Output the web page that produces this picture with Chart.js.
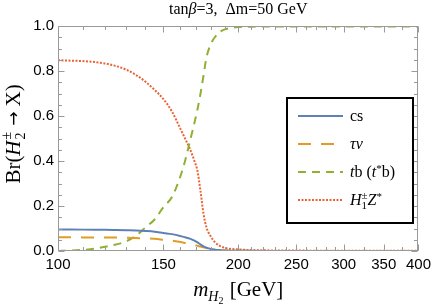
<!DOCTYPE html>
<html><head><meta charset="utf-8">
<script src="https://cdn.jsdelivr.net/npm/chart.js@4/dist/chart.umd.min.js"></script>
<style>html,body{margin:0;padding:0;background:#fff}#wrap{width:436px;height:308px;position:relative}</style>
</head><body><div id="wrap"><canvas id="c" width="436" height="308"></canvas></div>
<script>
// ---- data ----
const masses = [100,105,110,115,120,125,130,135,140,145,150,155,160,163,166,169,171,173,175,177,180,183,186,190,195,200,210,220,250,300,350,400];
const brCS   = [0.096,0.0955,0.095,0.0945,0.094,0.093,0.092,0.091,0.089,0.086,0.080,0.075,0.067,0.061,0.055,0.046,0.038,0.029,0.021,0.015,0.009,0.006,0.004,0.002,0.0015,0.001,0.0007,0.0005,0.0003,0.0002,0.0001,0.0001];
const brTauNu= [0.061,0.061,0.0605,0.0603,0.060,0.0595,0.059,0.0575,0.056,0.054,0.050,0.046,0.040,0.036,0.032,0.027,0.023,0.020,0.016,0.013,0.009,0.006,0.004,0.002,0.0012,0.0008,0.0005,0.0003,0.0002,0.0001,0.0001,0.0001];
const brTB   = [0.0,0.002,0.005,0.010,0.019,0.029,0.043,0.068,0.105,0.140,0.195,0.240,0.330,0.400,0.485,0.570,0.630,0.700,0.780,0.860,0.920,0.952,0.972,0.985,0.992,0.995,0.997,0.998,0.998,0.998,0.998,0.998];
const brHZ   = [0.848,0.846,0.844,0.840,0.833,0.822,0.806,0.782,0.752,0.716,0.675,0.620,0.545,0.500,0.455,0.400,0.355,0.265,0.165,0.105,0.064,0.038,0.024,0.014,0.009,0.007,0.004,0.003,0.002,0.001,0.001,0.001];
const xTickLabels = [100,150,200,250,300,350,400];
const xMinorTicks = [110,120,130,140,160,170,180,190,210,220,230,240,260,270,280,290,325,375];
const yTickLabels = [0.0,0.2,0.4,0.6,0.8,1.0];
const yMinorTicks = [0.05,0.1,0.15,0.25,0.3,0.35,0.45,0.5,0.55,0.65,0.7,0.75,0.85,0.9,0.95];

const SERIF = '"Liberation Serif","Times New Roman",serif';
const SANS = '"Liberation Sans",Arial,sans-serif';
const COLORS = {cs:'#5E81B5', tau:'#E19C24', tb:'#8FB032', hz:'#EB6235'};

function pts(ys){ return masses.map((m,i)=>({x:m,y:ys[i]})); }

function fontOf(r){ return (r.style||'normal')+' '+r.size+'px '+(r.fam||SERIF); }
// runs: {t,size,style,dy,stack,kern}
function runsWidth(ctx, runs){
  let x=0, ps=0, pw=0;
  for(const r of runs){
    ctx.font=fontOf(r); const w=ctx.measureText(r.t).width;
    if(r.stack){ r.x=ps; pw=Math.max(pw,w); x=ps+pw; }
    else { r.x=x+(r.kern||0); ps=r.x; pw=w; x=r.x+w; }
  }
  return x;
}
function drawRuns(ctx, runs, x0, y0, align){
  const w=runsWidth(ctx, runs);
  const sx = align==='center' ? x0-w/2 : x0;
  ctx.textBaseline='alphabetic'; ctx.textAlign='left';
  for(const r of runs){ ctx.font=fontOf(r); ctx.fillText(r.t, sx+r.x, y0+(r.dy||0)); }
}

const deco = {
  id:'deco',
  afterDraw(chart){
    const {ctx, chartArea:a, scales:{x,y}} = chart;
    ctx.save();
    const L=Math.round(a.left)+0.5, R=Math.round(a.right)-0.5, T=Math.round(a.top)+0.5, B=Math.round(a.bottom)-0.5;
    ctx.strokeStyle='#9a9a9a'; ctx.lineWidth=1;
    ctx.beginPath(); ctx.rect(L,T,R-L,B-T); ctx.stroke();
    ctx.beginPath();
    const tk=(v,len)=>{ const px=Math.round(x.getPixelForValue(v))+0.5; ctx.moveTo(px,B); ctx.lineTo(px,B-len); ctx.moveTo(px,T); ctx.lineTo(px,T+len); };
    xTickLabels.forEach(v=>tk(v,6)); xMinorTicks.forEach(v=>tk(v,3.5));
    const tky=(v,len)=>{ const py=Math.round(y.getPixelForValue(v))+0.5; ctx.moveTo(L,py); ctx.lineTo(L+len,py); ctx.moveTo(R,py); ctx.lineTo(R-len,py); };
    yTickLabels.forEach(v=>tky(v,6)); yMinorTicks.forEach(v=>tky(v,3.5));
    ctx.stroke();

    ctx.fillStyle='#000';
    // title
    drawRuns(ctx,[{t:'tan',size:16},{t:'β',size:16,style:'italic'},{t:'=3,  Δm=50 GeV',size:16}], (a.left+a.right)/2, 14, 'center');
    // x title
    drawRuns(ctx,[{t:'m',size:21,style:'italic'},{t:'H',size:14,style:'italic',dy:5},{t:'2',size:10,dy:8},{t:' [GeV]',size:21,kern:1}], (a.left+a.right)/2, 296, 'center');
    // y title
    ctx.save(); ctx.translate(20,134); ctx.rotate(-Math.PI/2);
    drawRuns(ctx,[{t:'Br(',size:21},{t:'H',size:21,style:'italic'},{t:'2',size:14,dy:5,kern:1},{t:'±',size:14,dy:-9,stack:true},{t:'→',size:17,fam:'"DejaVu Sans",sans-serif',kern:6,dy:-1},{t:'X)',size:21,kern:5}],0,0,'center');
    ctx.restore();

    // legend
    const bx=a.left+229, by=a.top+72, bw=126, bh=125;
    ctx.fillStyle='#fff'; ctx.fillRect(bx,by,bw,bh);
    ctx.strokeStyle='#000'; ctx.lineWidth=2; ctx.strokeRect(bx,by,bw,bh);
    const labels=[
      [{t:'cs',size:16}],
      [{t:'τν',size:16,style:'italic'}],
      [{t:'t',size:16,style:'italic'},{t:'b (',size:16},{t:'t',size:16,style:'italic'},{t:'*',size:11,dy:-5},{t:'b)',size:16}],
      [{t:'H',size:16,style:'italic'},{t:'1',size:11,dy:4},{t:'±',size:11,dy:-6,stack:true},{t:'Z',size:16,style:'italic'},{t:'*',size:11,dy:-5}]
    ];
    chart.data.datasets.forEach((ds,i)=>{
      const ly=by+18+i*28;
      ctx.strokeStyle=ds.borderColor; ctx.lineWidth=ds.borderWidth; ctx.setLineDash(ds.borderDash||[]);
      ctx.beginPath(); ctx.moveTo(bx+11,ly); ctx.lineTo(bx+56,ly); ctx.stroke();
      ctx.setLineDash([]);
      ctx.fillStyle='#000';
      drawRuns(ctx, labels[i], bx+63, ly+5, 'left');
    });
    ctx.restore();
  }
};

const mk=(label,data,color,dash)=>({label,data:pts(data),borderColor:color,backgroundColor:color,borderWidth:2,borderDash:dash,pointRadius:0,cubicInterpolationMode:'monotone',fill:false});

new Chart(document.getElementById('c'),{
  type:'line',
  data:{datasets:[
    mk('cs',brCS,COLORS.cs,[]),
    mk('τν',brTauNu,COLORS.tau,[13,10]),
    mk('tb (t*b)',brTB,COLORS.tb,[8,6]),
    mk('H1±Z*',brHZ,COLORS.hz,[2,1.5])
  ]},
  options:{
    responsive:false, animation:false, devicePixelRatio:1,
    layout:{padding:{top:26,right:15,left:0,bottom:0}},
    plugins:{legend:{display:false},tooltip:{enabled:false},title:{display:false}},
    scales:{
      x:{type:'logarithmic',min:100,max:400,
         grid:{display:false,drawTicks:false},border:{display:false},
         afterBuildTicks:(s)=>{ s.ticks=xTickLabels.map(v=>({value:v})); },
         afterFit:(s)=>{ s.height=57; },
         ticks:{autoSkip:false,maxRotation:0,padding:5,color:'#000',font:{family:SANS,size:15},callback:(v)=>String(v)}},
      y:{type:'linear',min:0,max:1,
         grid:{display:false,drawTicks:false},border:{display:false},
         afterBuildTicks:(s)=>{ s.ticks=yTickLabels.map(v=>({value:v})); },
         afterFit:(s)=>{ s.width=58; },
         ticks:{padding:4,color:'#000',font:{family:SANS,size:15},callback:(v)=>Number(v).toFixed(1)}}
    }
  },
  plugins:[deco]
});
</script></body></html>
